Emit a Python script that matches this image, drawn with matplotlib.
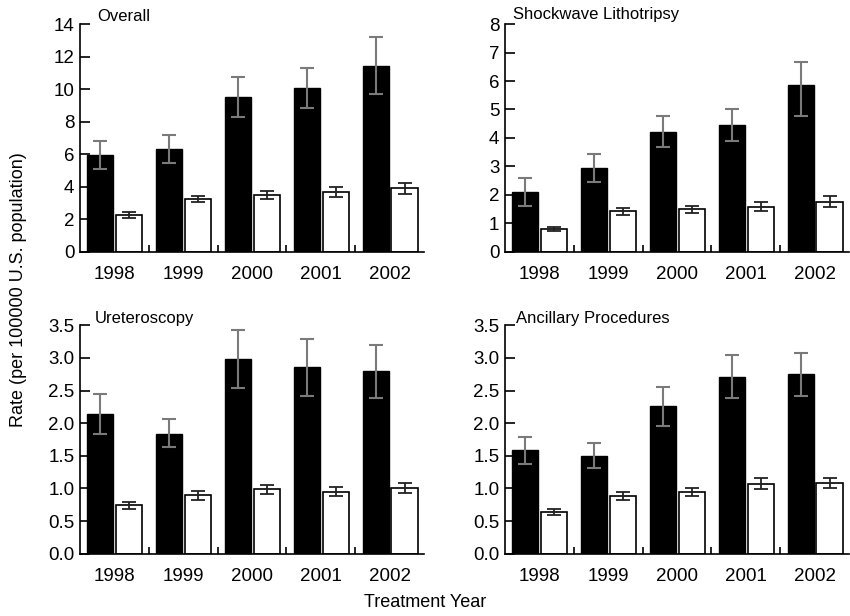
import numpy as np
import matplotlib
matplotlib.use('Agg')
import matplotlib.pyplot as plt

plt.rcParams['font.family'] = ['Liberation Sans', 'DejaVu Sans']

years = ['1998', '1999', '2000', '2001', '2002']

# black bars (first series) and white bars (second series), with error bar lows/highs
overall_black = [5.95, 6.33, 9.5, 10.05, 11.44]
overall_black_lo = [5.07, 5.46, 8.3, 8.86, 9.68]
overall_black_hi = [6.8, 7.2, 10.76, 11.3, 13.2]
overall_white = [2.25, 3.24, 3.49, 3.67, 3.9]
overall_white_lo = [2.08, 3.06, 3.24, 3.38, 3.53]
overall_white_hi = [2.43, 3.44, 3.73, 3.98, 4.23]

swl_black = [2.1, 2.93, 4.2, 4.45, 5.87]
swl_black_lo = [1.6, 2.45, 3.68, 3.91, 4.77]
swl_black_hi = [2.6, 3.43, 4.77, 5.02, 6.65]
swl_white = [0.81, 1.42, 1.5, 1.58, 1.76]
swl_white_lo = [0.74, 1.31, 1.38, 1.44, 1.56]
swl_white_hi = [0.89, 1.53, 1.63, 1.74, 1.96]

urs_black = [2.14, 1.83, 2.98, 2.86, 2.8]
urs_black_lo = [1.83, 1.63, 2.54, 2.42, 2.38]
urs_black_hi = [2.45, 2.06, 3.42, 3.29, 3.2]
urs_white = [0.75, 0.9, 0.99, 0.95, 1.01]
urs_white_lo = [0.69, 0.83, 0.92, 0.88, 0.93]
urs_white_hi = [0.8, 0.96, 1.06, 1.02, 1.09]

anc_black = [1.59, 1.5, 2.27, 2.71, 2.76]
anc_black_lo = [1.38, 1.31, 1.96, 2.39, 2.42]
anc_black_hi = [1.79, 1.69, 2.56, 3.05, 3.08]
anc_white = [0.64, 0.88, 0.95, 1.07, 1.08]
anc_white_lo = [0.6, 0.83, 0.88, 0.99, 1.0]
anc_white_hi = [0.68, 0.94, 1.01, 1.16, 1.16]

panels = [
    ('Overall', overall_black, overall_black_lo, overall_black_hi,
     overall_white, overall_white_lo, overall_white_hi, 14, 2, '{:.0f}'),
    ('Shockwave Lithotripsy', swl_black, swl_black_lo, swl_black_hi,
     swl_white, swl_white_lo, swl_white_hi, 8, 1, '{:.0f}'),
    ('Ureteroscopy', urs_black, urs_black_lo, urs_black_hi,
     urs_white, urs_white_lo, urs_white_hi, 3.5, 0.5, '{:.1f}'),
    ('Ancillary Procedures', anc_black, anc_black_lo, anc_black_hi,
     anc_white, anc_white_lo, anc_white_hi, 3.5, 0.5, '{:.1f}'),
]

positions = [
    [0.094, 0.591, 0.405, 0.370],
    [0.594, 0.591, 0.405, 0.370],
    [0.094, 0.101, 0.405, 0.371],
    [0.594, 0.101, 0.405, 0.371],
]
title_x = [0.05, 0.023, 0.044, 0.032]
title_y = [1.035, 1.04, 1.03, 1.03]

fig = plt.figure(figsize=(8.5, 6.16), dpi=100)

x = np.arange(len(years))
w = 0.38

for i, (pos, p) in enumerate(zip(positions, panels)):
    title, bk, bk_lo, bk_hi, wh, wh_lo, wh_hi, ymax, step, fmt = p
    ax = fig.add_axes(pos)
    bk = np.array(bk)
    wh = np.array(wh)
    ax.bar(x - 0.205, bk, w, color='black', edgecolor='black', linewidth=1)
    ax.bar(x + 0.215, wh, w, color='white', edgecolor='black', linewidth=1.2)
    ax.errorbar(x - 0.205, bk, yerr=[bk - np.array(bk_lo), np.array(bk_hi) - bk],
                fmt='none', ecolor='#7a7a7a', elinewidth=1.5, capsize=5, capthick=1.5)
    ax.errorbar(x + 0.215, wh, yerr=[wh - np.array(wh_lo), np.array(wh_hi) - wh],
                fmt='none', ecolor='#222222', elinewidth=1.3, capsize=5, capthick=1.3)

    ax.set_xlim(-0.5, 4.5)
    ax.set_ylim(0, ymax)
    yt = np.arange(0, ymax + step / 2, step)
    ax.set_yticks(yt)
    ax.set_yticklabels([fmt.format(v) for v in yt])
    ax.set_xticks(x)
    ax.set_xticklabels(years)
    ax.set_xticks([0.5, 1.5, 2.5, 3.5], minor=True)
    ax.tick_params(axis='x', which='major', length=0, labelsize=13.5, pad=10)
    ax.tick_params(axis='x', which='minor', direction='in', length=5, width=1.2)
    ax.tick_params(axis='y', direction='in', length=7, width=1.2, labelsize=13.5, pad=4)
    for s in ['top', 'right']:
        ax.spines[s].set_visible(False)
    for s in ['left', 'bottom']:
        ax.spines[s].set_linewidth(1.2)
    ax.text(title_x[i], title_y[i], title, transform=ax.transAxes,
            fontsize=12, ha='left', va='center')

fig.text(0.022, 0.53, 'Rate (per 100000 U.S. population)', rotation=90,
         fontsize=13, ha='center', va='center')
fig.text(0.5, 0.022, 'Treatment Year', fontsize=13, ha='center', va='center')

plt.savefig('out.png', dpi=100)
